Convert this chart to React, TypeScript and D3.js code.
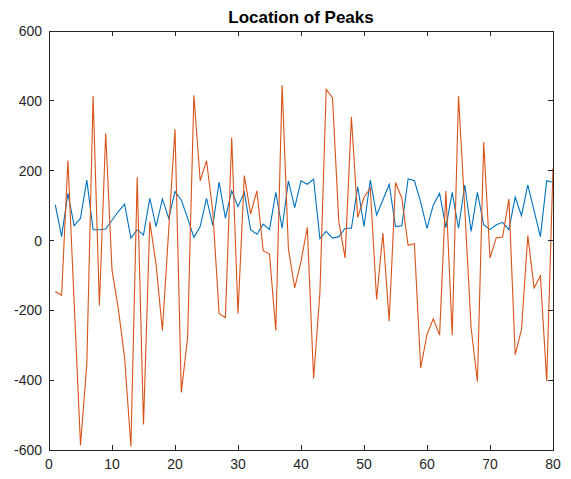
import * as d3 from 'd3';

// sample index (1..80)
const xs: number[] = d3.range(1, 81);

// blue series (MATLAB colour 1)
const blueVals: number[] = [
  102, 11, 135, 42, 64, 173, 31, 31, 33, 58,
  83, 104, 7, 31, 16, 121, 40, 119, 64, 140,
  116, 64, 9, 40, 121, 43, 167, 64, 142, 97,
  138, 31, 18, 47, 31, 138, 35, 171, 94, 171,
  161, 176, 5, 26, 7, 11, 35, 35, 154, 40,
  173, 73, 116, 161, 40, 42, 176, 171, 110, 35,
  102, 135, 37, 138, 35, 159, 26, 138, 45, 31,
  45, 52, 31, 124, 71, 159, 85, 11, 171, 167,
];

// orange series (MATLAB colour 2)
const orangeVals: number[] = [
  -146, -157, 229, -180, -586, -355, 414, -186, 307, -84,
  -195, -336, -590, 181, -527, 54, -69, -258, 30, 319,
  -435, -278, 416, 171, 229, 83, -209, -221, 294, -209,
  186, 76, 142, -29, -39, -258, 445, -24, -136, -60,
  38, -395, -150, 433, 409, 54, -50, 354, 66, 123,
  150, -169, 21, -231, 166, 121, -14, -9, -365, -269,
  -224, -271, 142, -271, 414, 90, -250, -404, 281, -50,
  8, 10, 119, -327, -255, 14, -136, -101, -403, 207,
];

const xTicks: number[] = [0, 10, 20, 30, 40, 50, 60, 70, 80];
const yTicks: number[] = [-600, -400, -200, 0, 200, 400, 600];
const title = 'Location of Peaks';

const W = 571;
const H = 479;
const margin = { top: 31, right: 18, bottom: 29, left: 49 };
const axisColor = '#262626';
const font = '"Liberation Sans", Arial, Helvetica, sans-serif';

export default function App() {
  const x = d3.scaleLinear().domain([0, 80]).range([margin.left, W - margin.right]);
  const y = d3.scaleLinear().domain([-600, 600]).range([H - margin.bottom, margin.top]);

  const line = d3
    .line<number>()
    .x((_, i) => x(xs[i]))
    .y((d) => y(d));

  const x0 = x(0);
  const x1 = x(80);
  const y0 = y(-600);
  const y1 = y(600);
  const tl = 5;

  return (
    <svg
      width={W}
      height={H}
      style={{ position: 'absolute', left: 0, top: 0, background: '#fff' }}
      fontFamily={font}
    >
      <rect x={0} y={0} width={W} height={H} fill="#fff" />
      <defs>
        <clipPath id="clip">
          <rect x={x0} y={y1} width={x1 - x0} height={y0 - y1} />
        </clipPath>
      </defs>
      <g clipPath="url(#clip)">
        <path d={line(blueVals) ?? ''} fill="none" stroke="#0072BD" strokeWidth={1.1} />
        <path d={line(orangeVals) ?? ''} fill="none" stroke="#D95319" strokeWidth={1.1} />
      </g>

      {/* box */}
      <rect
        x={x0}
        y={y1}
        width={x1 - x0}
        height={y0 - y1}
        fill="none"
        stroke={axisColor}
        strokeWidth={1}
        shapeRendering="crispEdges"
      />

      {/* x ticks, top & bottom, pointing in */}
      {xTicks.map((t) => (
        <g key={'x' + t}>
          <line x1={x(t)} x2={x(t)} y1={y0} y2={y0 - tl} stroke={axisColor} shapeRendering="crispEdges" />
          <line x1={x(t)} x2={x(t)} y1={y1} y2={y1 + tl} stroke={axisColor} shapeRendering="crispEdges" />
          <text x={x(t)} y={y0 + 19} textAnchor="middle" fontSize={14} fill={axisColor}>
            {t}
          </text>
        </g>
      ))}

      {/* y ticks, left & right */}
      {yTicks.map((t) => (
        <g key={'y' + t}>
          <line x1={x0} x2={x0 + tl} y1={y(t)} y2={y(t)} stroke={axisColor} shapeRendering="crispEdges" />
          <line x1={x1} x2={x1 - tl} y1={y(t)} y2={y(t)} stroke={axisColor} shapeRendering="crispEdges" />
          <text x={x0 - 7} y={y(t) + 5} textAnchor="end" fontSize={14} fill={axisColor}>
            {t}
          </text>
        </g>
      ))}

      <text
        x={(x0 + x1) / 2}
        y={23}
        textAnchor="middle"
        fontSize={17}
        fontWeight="bold"
        fill="#000"
      >
        {title}
      </text>
    </svg>
  );
}
